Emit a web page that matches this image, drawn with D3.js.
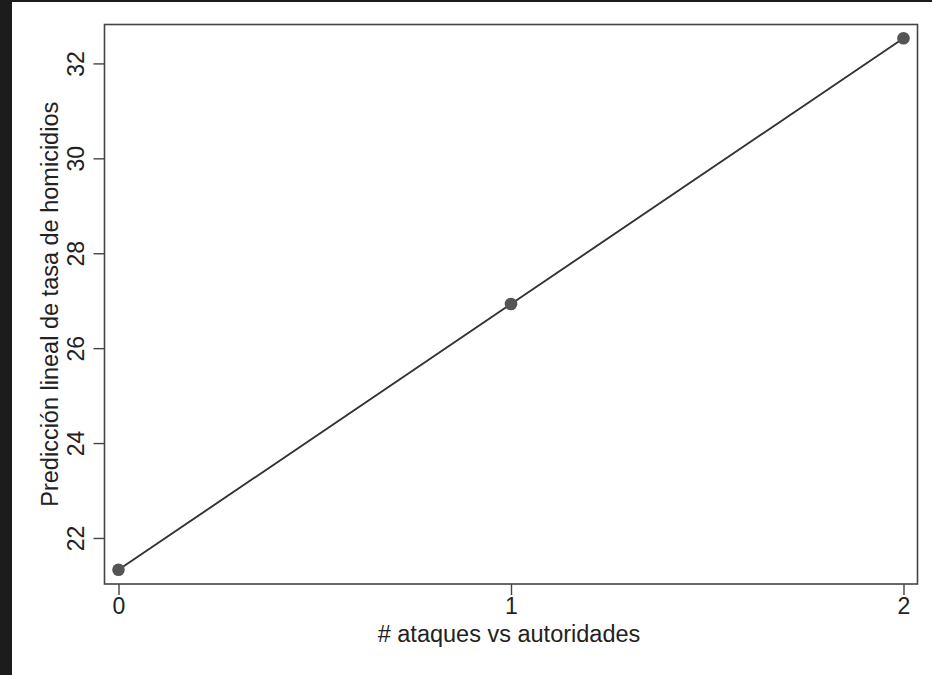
<!DOCTYPE html>
<html>
<head>
<meta charset="utf-8">
<script src="https://cdn.jsdelivr.net/npm/d3@7"></script>
<style>
  body { margin: 0; background: #1c1c1c; }
  svg { display: block; }
</style>
</head>
<body>
<svg id="chart" width="932" height="675"></svg>
<script>
// Data
const ataques = [0, 1, 2];
const prediccion = [21.33, 26.93, 32.53];
const yTicks = [22, 24, 26, 28, 30, 32];
const xTicks = [0, 1, 2];

const svg = d3.select("#chart");
const width = 932, height = 675;

// white page, with the dark strip on the left and top like the screenshot
svg.append("rect").attr("x", 12).attr("y", 2)
    .attr("width", width - 12).attr("height", height - 2)
    .attr("fill", "#ffffff");

const plot = { left: 104.5, top: 24.5, right: 917.5, bottom: 584 };

const xScale = d3.scaleLinear()
    .domain([-0.0357, 2.0357])
    .range([plot.left, plot.right]);
const yScale = d3.scaleLinear()
    .domain([21.03, 32.82])
    .range([plot.bottom, plot.top]);

const font = "'Liberation Sans', Arial, Helvetica, sans-serif";
const tickFont = "23px";
const titleFont = "23.5px";

//Y axis
const yAxis = svg.append("g")
    .attr("transform", `translate(${plot.left},0)`)
    .call(d3.axisLeft(yScale).tickValues(yTicks).tickSize(11).tickSizeOuter(0));
yAxis.select(".domain").remove();
yAxis.selectAll("line").attr("stroke", "#444").attr("stroke-width", 1.4);
// rotated tick labels, baseline just left of the ticks
yAxis.selectAll(".tick text")
    .attr("x", null).attr("y", null).attr("dy", null)
    .attr("transform", "translate(-21,0) rotate(-90)")
    .style("text-anchor", "middle")
    .style("font-family", font)
    .style("font-size", tickFont)
    .attr("fill", "#222");

//X axis
const xAxis = svg.append("g")
    .attr("transform", `translate(0,${plot.bottom})`)
    .call(d3.axisBottom(xScale).tickValues(xTicks).tickFormat(d3.format("d")).tickSize(11).tickSizeOuter(0).tickPadding(3));
xAxis.select(".domain").remove();
xAxis.selectAll("line").attr("stroke", "#444").attr("stroke-width", 1.4);
xAxis.selectAll("text")
    .style("font-family", font)
    .style("font-size", tickFont)
    .attr("fill", "#222");

//Frame
svg.append("rect")
    .attr("x", plot.left).attr("y", plot.top)
    .attr("width", plot.right - plot.left)
    .attr("height", plot.bottom - plot.top)
    .attr("fill", "none")
    .attr("stroke", "#444")
    .attr("stroke-width", 1.6);

//Axis titles
svg.append("text")
    .attr("x", 509)
    .attr("y", 642)
    .style("text-anchor", "middle")
    .style("font-family", font)
    .style("font-size", titleFont)
    .attr("fill", "#222")
    .text("# ataques vs autoridades");

svg.append("text")
    .attr("transform", `translate(58,${(plot.top + plot.bottom) / 2}) rotate(-90)`)
    .style("text-anchor", "middle")
    .style("font-family", font)
    .style("font-size", titleFont)
    .attr("fill", "#222")
    .text("Predicción lineal de tasa de homicidios");

//Line and points
const data = ataques.map((a, i) => ({ x: a, y: prediccion[i] }));

svg.append("path")
    .datum(data)
    .attr("d", d3.line().x(d => xScale(d.x)).y(d => yScale(d.y)))
    .attr("fill", "none")
    .attr("stroke", "#333")
    .attr("stroke-width", 1.9);

svg.selectAll("circle.pt")
    .data(data)
    .enter().append("circle")
    .attr("class", "pt")
    .attr("cx", d => xScale(d.x))
    .attr("cy", d => yScale(d.y))
    .attr("r", 6.3)
    .attr("fill", "#555");
</script>
</body>
</html>
